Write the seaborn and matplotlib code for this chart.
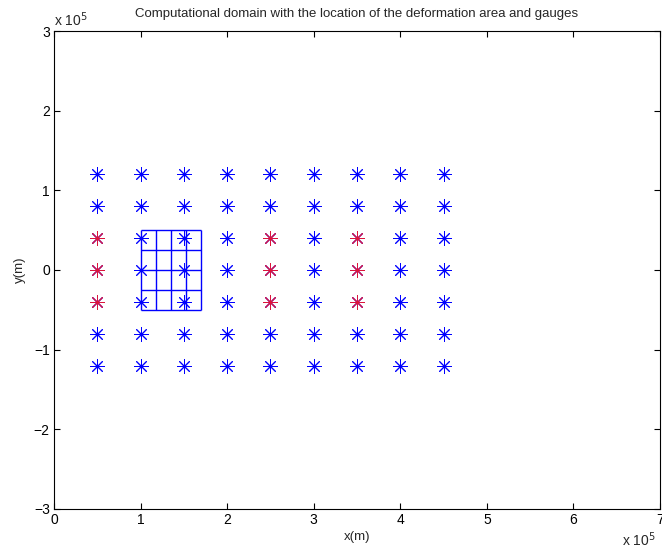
import pandas as pd
import matplotlib
matplotlib.use('Agg')
import matplotlib.pyplot as plt
import seaborn as sns

# Gauge positions (m)
gauge_x = [0.5e5, 1.0e5, 1.5e5, 2.0e5, 2.5e5, 3.0e5, 3.5e5, 4.0e5, 4.5e5]
gauge_y = [-1.2e5, -0.8e5, -0.4e5, 0.0, 0.4e5, 0.8e5, 1.2e5]
# gauges highlighted in red
red_x = [0.5e5, 2.5e5, 3.5e5]
red_y = [-0.4e5, 0.0, 0.4e5]

# Deformation area: cell edges (m)
cell_x_edges = [1.0e5, 1.175e5, 1.35e5, 1.525e5, 1.7e5]
cell_y_edges = [-0.5e5, -0.25e5, 0.0, 0.25e5, 0.5e5]

x_ticks = [0, 1, 2, 3, 4, 5, 6, 7]
y_ticks = [-3, -2, -1, 0, 1, 2, 3]

rows = []
for gx in gauge_x:
    for gy in gauge_y:
        rows.append({'x': gx, 'y': gy, 'kind': 'red' if (gx in red_x and gy in red_y) else 'blue'})
gauges = pd.DataFrame(rows)

sns.set_style('white')
plt.rcParams['font.family'] = ['Liberation Sans', 'DejaVu Sans']

fig = plt.figure(figsize=(6.62, 5.49), dpi=100)
ax = fig.add_axes([0.0816, 0.0729, 0.9154, 0.8706])

# deformation area grid
ax.vlines(cell_x_edges, cell_y_edges[0], cell_y_edges[-1], colors='blue', linewidth=1, zorder=3)
ax.hlines(cell_y_edges, cell_x_edges[0], cell_x_edges[-1], colors='blue', linewidth=1, zorder=3)

# all gauges in blue, red ones drawn on top
sns.scatterplot(data=gauges, x='x', y='y', marker=(8, 2, 0),
                color='blue', s=95, linewidth=0.7, ax=ax, zorder=4, legend=False)
sns.scatterplot(data=gauges[gauges['kind'] == 'red'], x='x', y='y', marker=(8, 2, 0),
                color='#dc143c', s=95, linewidth=0.7, ax=ax, zorder=5, legend=False)

ax.set_xlim(0, 7e5)
ax.set_ylim(-3e5, 3e5)
ax.set_xticks([t * 1e5 for t in x_ticks])
ax.set_xticklabels([str(t) for t in x_ticks])
ax.set_yticks([t * 1e5 for t in y_ticks])
ax.set_yticklabels([str(t).replace('-', '\u2212') for t in y_ticks])
ax.tick_params(direction='in', length=4, width=0.8, labelsize=10, colors='black',
               top=True, right=True, bottom=True, left=True, pad=3)
for sp in ax.spines.values():
    sp.set_color('black')
    sp.set_linewidth(0.8)

ax.set_xlabel('x(m)', fontsize=9.5, labelpad=3)
ax.set_ylabel('y(m)', fontsize=9.5, labelpad=6)
ax.set_title('Computational domain with the location of the deformation area and gauges',
             fontsize=9.5, pad=10)
ax.text(0.0, 1.005, r'x 10$^5$', transform=ax.transAxes, fontsize=10, ha='left', va='bottom')
ax.text(0.993, -0.044, r'x 10$^5$', transform=ax.transAxes, fontsize=10, ha='right', va='top')

fig.savefig('out.png', dpi=100)
